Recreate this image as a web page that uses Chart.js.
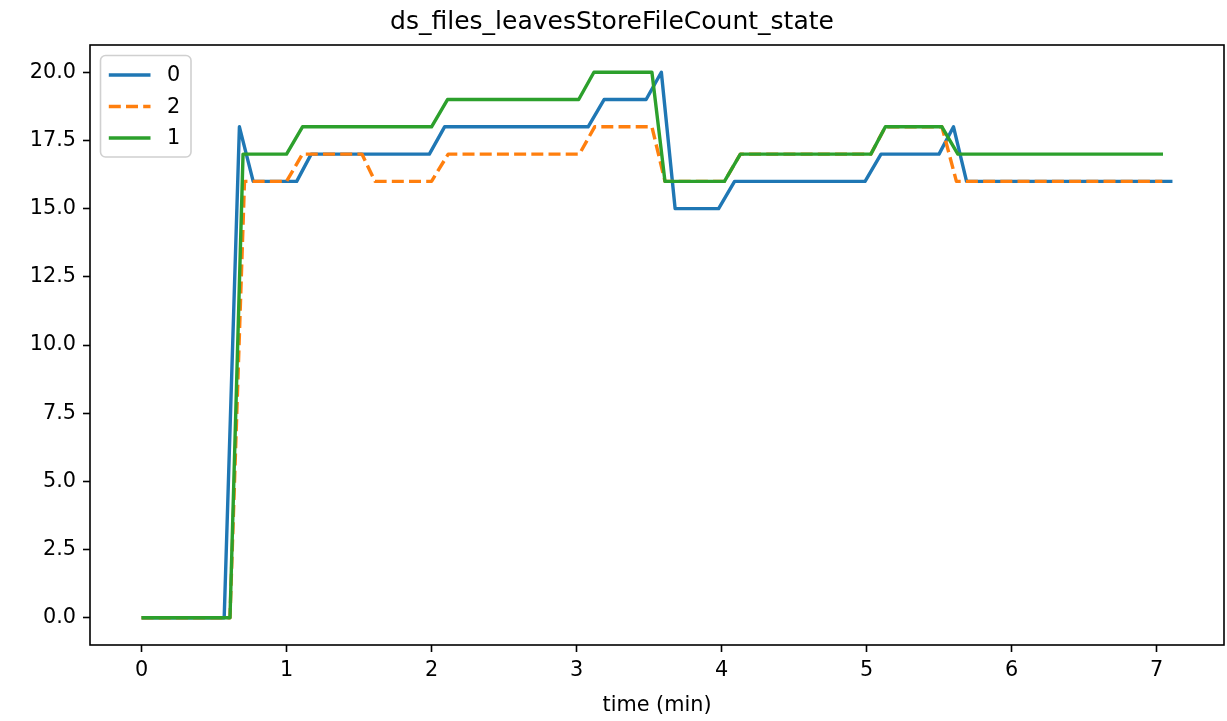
<!DOCTYPE html>
<html>
<head>
<meta charset="utf-8">
<script src="https://cdn.jsdelivr.net/npm/chart.js@4.4.1/dist/chart.umd.min.js"></script>
<style>
  html, body { margin: 0; padding: 0; background: #fff; }
  #wrap { width: 1227px; height: 721px; }
</style>
</head>
<body>
<div id="wrap"><canvas id="chart" width="1227" height="721"></canvas></div>
<script>
// series "0" (blue)
const time0  = [0, 0.57, 0.675, 0.77, 1.07, 1.17, 1.985, 2.09, 3.08, 3.19, 3.48, 3.585, 3.68, 3.98, 4.09, 4.99, 5.10, 5.50, 5.60, 5.69, 7.11];
const value0 = [0, 0,    18,    16,   16,   17,   17,    18,   18,   19,   19,   20,    15,   15,   16,   16,   17,   17,   18,   16,   16];

// series "2" (orange, dashed)
const time2  = [0, 0.61, 0.71, 1.0, 1.11, 1.52, 1.61, 2.0, 2.115, 3.02, 3.125, 3.52, 3.61, 4.02, 4.13, 5.03, 5.13, 5.52, 5.62, 7.04];
const value2 = [0, 0,    16,   16,  17,   17,   16,   16,  17,    17,   18,    18,   16,   16,   17,   17,   18,   18,   16,   16];

// series "1" (green)
const time1  = [0, 0.61, 0.70, 1.0, 1.11, 2.0, 2.11, 3.015, 3.12, 3.52, 3.61, 4.02, 4.13, 5.03, 5.13, 5.52, 5.63, 7.045];
const value1 = [0, 0,    17,   17,  18,   18,  19,   19,    20,   20,   16,   16,   17,   17,   18,   18,   17,   17];

const xTicks = [0, 1, 2, 3, 4, 5, 6, 7];
const yTicks = [0, 2.5, 5, 7.5, 10, 12.5, 15, 17.5, 20];

const FONT = "'DejaVu Sans', 'Liberation Sans', sans-serif";
Chart.defaults.color = '#000';
Chart.defaults.font.family = FONT;

function points(ts, vs) {
  return ts.map((t, i) => ({ x: t, y: vs[i] }));
}

// box around the plot area, like matplotlib spines
const frame = {
  id: 'frame',
  afterDatasetsDraw(chart) {
    const { ctx, chartArea: a } = chart;
    ctx.save();
    ctx.strokeStyle = '#000';
    ctx.lineWidth = 1.6;
    ctx.strokeRect(a.left, a.top, a.right - a.left, a.bottom - a.top);
    ctx.restore();
  }
};

// legend box in the upper left corner of the axes
const boxLegend = {
  id: 'boxLegend',
  afterDraw(chart) {
    const { ctx, chartArea: a } = chart;
    const x = a.left + 10.5, y = a.top + 10.5, w = 90.5, h = 101.5, r = 5;
    ctx.save();
    ctx.beginPath();
    ctx.roundRect(x, y, w, h, r);
    ctx.fillStyle = 'rgba(255,255,255,0.8)';
    ctx.fill();
    ctx.strokeStyle = '#d0d0d0';
    ctx.lineWidth = 1.6;
    ctx.stroke();
    ctx.font = '20.8px ' + FONT;
    ctx.textBaseline = 'middle';
    ctx.fillStyle = '#000';
    chart.data.datasets.forEach((ds, i) => {
      const cy = y + 19.5 + i * 31.5;
      ctx.beginPath();
      ctx.setLineDash(ds.borderDash || []);
      ctx.strokeStyle = ds.borderColor;
      ctx.lineWidth = ds.borderWidth;
      ctx.moveTo(x + 8.3, cy);
      ctx.lineTo(x + 50, cy);
      ctx.stroke();
      ctx.setLineDash([]);
      ctx.fillText(ds.label, x + 66.5, cy + 1);
    });
    ctx.restore();
  }
};

const tickFont = { family: FONT, size: 20.8 };
const LW = 3.4;

new Chart(document.getElementById('chart'), {
  type: 'line',
  data: {
    datasets: [
      {
        label: '0',
        data: points(time0, value0),
        order: 3,
        borderColor: '#1f77b4',
        borderWidth: LW,
        borderJoinStyle: 'round',
        pointRadius: 0,
        fill: false,
        tension: 0
      },
      {
        label: '2',
        data: points(time2, value2),
        order: 2,
        borderColor: '#ff7f0e',
        borderWidth: LW,
        borderDash: [12, 5.2],
        borderJoinStyle: 'round',
        pointRadius: 0,
        fill: false,
        tension: 0
      },
      {
        label: '1',
        data: points(time1, value1),
        order: 1,
        borderColor: '#2ca02c',
        borderWidth: LW,
        borderJoinStyle: 'round',
        pointRadius: 0,
        fill: false,
        tension: 0
      }
    ]
  },
  options: {
    responsive: false,
    animation: false,
    layout: { padding: { left: 0, right: 3, top: 0, bottom: 0 } },
    plugins: {
      legend: { display: false },
      tooltip: { enabled: false },
      title: {
        display: true,
        text: 'ds_files_leavesStoreFileCount_state',
        color: '#000',
        font: { family: FONT, size: 25, weight: 'normal' },
        padding: { top: 7, bottom: 8 }
      }
    },
    scales: {
      x: {
        type: 'linear',
        min: -0.3555,
        max: 7.4655,
        afterBuildTicks: s => { s.ticks = xTicks.map(v => ({ value: v })); },
        afterFit: s => { s.height = 76; },
        ticks: { font: tickFont, color: '#000', padding: 6, maxRotation: 0, autoSkip: false, callback: v => String(v) },
        grid: { drawOnChartArea: false, drawTicks: true, tickLength: 7, tickWidth: 1.6, tickColor: '#000' },
        border: { display: false },
        title: { display: true, text: 'time (min)', color: '#000', font: tickFont, padding: { top: 0, bottom: 3 } }
      },
      y: {
        type: 'linear',
        min: -1,
        max: 21,
        afterBuildTicks: s => { s.ticks = yTicks.map(v => ({ value: v })); },
        afterFit: s => { s.width = 90; },
        ticks: { font: tickFont, color: '#000', padding: 7, autoSkip: false, callback: v => v.toFixed(1) },
        grid: { drawOnChartArea: false, drawTicks: true, tickLength: 7, tickWidth: 1.6, tickColor: '#000' },
        border: { display: false }
      }
    }
  },
  plugins: [frame, boxLegend]
});
</script>
</body>
</html>
